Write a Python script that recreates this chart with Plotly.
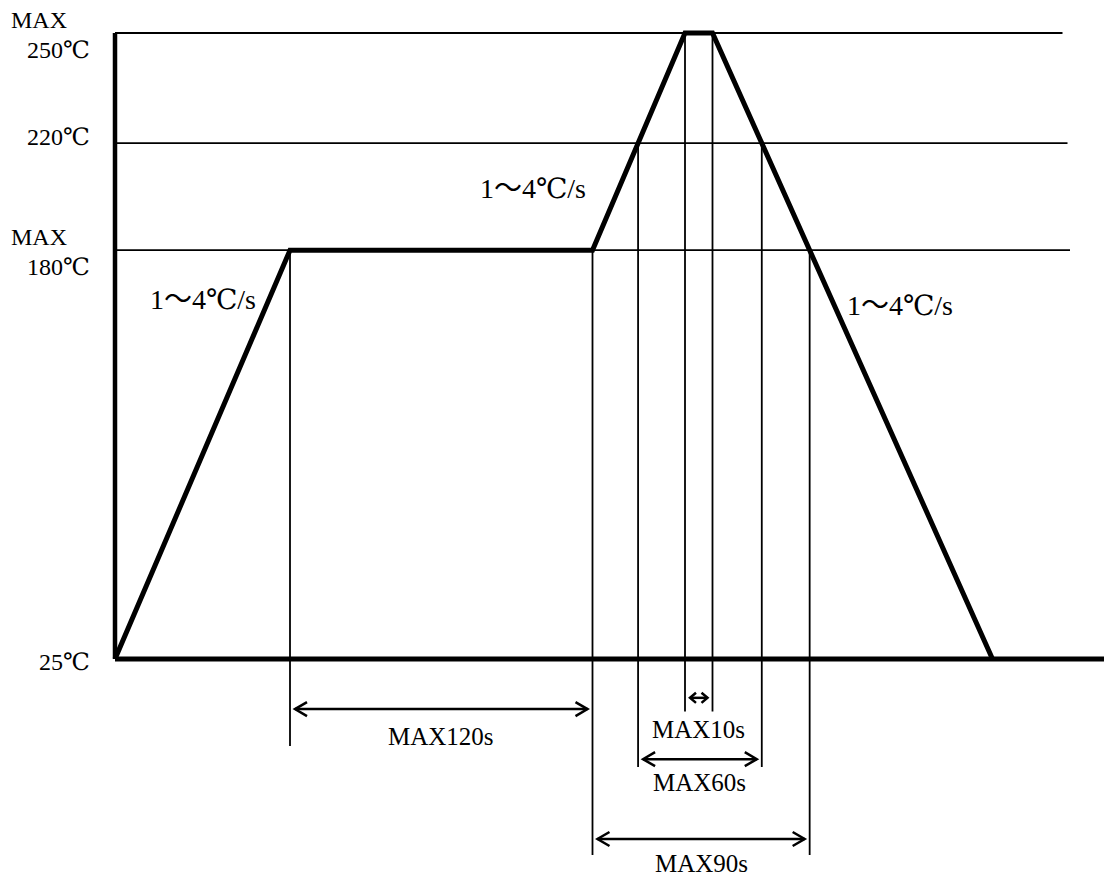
import numpy as np
import plotly.graph_objects as go

# Reflow soldering profile: time (s) and temperature (deg C) at each corner
PROFILE_T = [0, 70, 191, 228, 239, 351]
PROFILE_C = [25, 180, 180, 250, 250, 25]

# Temperature levels marked on the left
TEMP_LEVELS = [25, 180, 220, 250]
TEMP_LABELS = ["25℃", "180℃", "220℃", "250℃"]
TEMP_PREFIX = ["", "MAX", "", "MAX"]

# Horizontal guide lines
GUIDE_TEMPS = [180, 220, 250]

RATE_LABEL = "1～4℃/s"

# Time limits: label, start event, end event
DIM_LABELS = ["MAX120s", "MAX10s", "MAX60s", "MAX90s"]
DIM_FROM = ["soak_start", "peak_start", "up_220", "soak_end"]
DIM_TO = ["soak_end", "peak_end", "down_220", "down_180"]

# ---- layout (schematic drawing, not to scale) ----
LEVEL_POS = [0, 65.3, 82.4, 100]          # drawn height of each temp level
GUIDE_END = {180: 382, 220: 381, 250: 379}
AXIS_END = 400
# page body keeps its default 8px margin, so the figure is 8px smaller
X_RANGE = [-42.8, 398.8]
Y_RANGE = [-34.66, 103.99]

TEMP_LABEL_X = -9.2
PREFIX_X = -42.6
TEMP_LABEL_SHIFT = [-3, -17, 6, -17]
PREFIX_SHIFT = 13

RATE_POS = [(35.2, 57.35), (167.2, 75.2), (314, 56.5)]

DIM_ARROW_Y = [-8.0, -6.2, -16.0, -28.75]
DIM_TEXT_Y = [-12.3, -11.3, -19.8, -32.6]
DIM_EXT_Y = [-13.9, -8.4, -17.25, -31.3]
ARROW_GAP = 2.0
HEAD = {"MAX10s": (2.4, 0.8)}
HEAD_DEFAULT = (4.8, 1.12)

FONT = dict(family="Liberation Serif, DejaVu Serif, Noto Sans CJK JP, serif", size=24, color="black")


def level(temp):
    return float(np.interp(temp, TEMP_LEVELS, LEVEL_POS))


prof_y = [level(c) for c in PROFILE_C]


def crossing(temp, rising):
    # time where the profile passes a temperature on the heating or cooling ramp
    if rising:
        return float(np.interp(level(temp), prof_y[2:4], PROFILE_T[2:4]))
    return float(np.interp(level(temp), prof_y[5:3:-1], PROFILE_T[5:3:-1]))


events = {
    "soak_start": (PROFILE_T[1], 180),
    "soak_end": (PROFILE_T[2], 180),
    "up_220": (crossing(220, True), 220),
    "peak_start": (PROFILE_T[3], 250),
    "peak_end": (PROFILE_T[4], 250),
    "down_220": (crossing(220, False), 220),
    "down_180": (crossing(180, False), 180),
}

fig = go.Figure()


def add_line(x, y, width):
    fig.add_trace(go.Scatter(x=x, y=y, mode="lines", line=dict(color="black", width=width),
                             hoverinfo="skip", showlegend=False))


# guides
for temp in GUIDE_TEMPS:
    add_line([0, GUIDE_END[temp]], [level(temp), level(temp)], 1.8)

# extension lines, down to the lowest dimension row they bound
ext_bottom = {}
for i, (a, b) in enumerate(zip(DIM_FROM, DIM_TO)):
    for ev in (a, b):
        ext_bottom[ev] = min(ext_bottom.get(ev, 0), DIM_EXT_Y[i])
for ev, (t, temp) in events.items():
    add_line([t, t], [level(temp), ext_bottom[ev]], 1.8)

# dimension arrows
annotations = []
for i, label in enumerate(DIM_LABELS):
    x0 = events[DIM_FROM[i]][0] + ARROW_GAP
    x1 = events[DIM_TO[i]][0] - ARROW_GAP
    y = DIM_ARROW_Y[i]
    hx, hy = HEAD.get(label, HEAD_DEFAULT)
    add_line([x0 + hx, x0, x0 + hx, None, x0, x1, None, x1 - hx, x1, x1 - hx],
             [y + hy, y, y - hy, None, y, y, None, y + hy, y, y - hy], 2.5)
    annotations.append(dict(x=(x0 + x1) / 2, y=DIM_TEXT_Y[i], text=label, showarrow=False,
                            xanchor="center", yanchor="middle", font_size=25))

# axes and profile
add_line([0, 0], [level(250), 0], 4.5)
add_line([0, AXIS_END], [0, 0], 5)
add_line(PROFILE_T, prof_y, 5)

# temperature labels
for i, temp in enumerate(TEMP_LEVELS):
    annotations.append(dict(x=TEMP_LABEL_X, y=level(temp), text=TEMP_LABELS[i], showarrow=False,
                            xanchor="right", yanchor="middle", yshift=TEMP_LABEL_SHIFT[i]))
    if TEMP_PREFIX[i]:
        annotations.append(dict(x=PREFIX_X, y=level(temp), text=TEMP_PREFIX[i], showarrow=False,
                                xanchor="left", yanchor="middle", yshift=PREFIX_SHIFT))

# ramp rate labels
for x, y in RATE_POS:
    annotations.append(dict(x=x, y=y, text=RATE_LABEL, showarrow=False,
                            xanchor="center", yanchor="middle", font_size=28))

fig.update_layout(
    width=1104,
    height=868,
    margin=dict(l=0, r=0, t=0, b=0),
    paper_bgcolor="white",
    plot_bgcolor="white",
    font=FONT,
    showlegend=False,
    hovermode=False,
    annotations=annotations,
    xaxis=dict(range=X_RANGE, visible=False, fixedrange=True),
    yaxis=dict(range=Y_RANGE, visible=False, fixedrange=True),
)

fig.write_html("out.html")
